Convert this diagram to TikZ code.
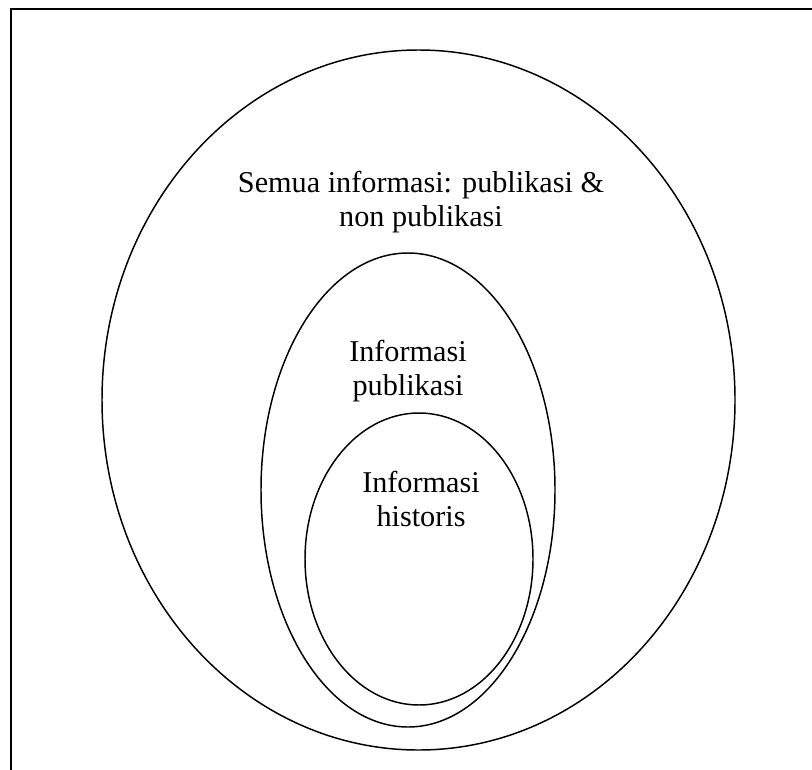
\documentclass[tikz,border=0pt]{standalone}
\usepackage{fontspec}
\setmainfont{Liberation Serif}
\begin{document}
\begin{tikzpicture}[xscale=2.5, yscale=-2.5,
        caption/.style={align=center, anchor=base, inner sep=0pt, font=\fontsize{21.5}{23.5}\selectfont}]
            \useasboundingbox (0,0) rectangle (8.12,7.69);
            \clip (0,0) rectangle (8.12,7.69);
            \draw [line width=1.4pt] (0.11,8) -- (0.11,0.09) -- (8.3,0.09);
            \draw [line width=1.05pt] (4.185,4.0) ellipse (3.165 and 3.5);
            \draw [line width=1.05pt] (4.08,4.9) ellipse (1.47 and 2.37);
            \draw [line width=1.05pt] (4.19,5.59) ellipse (1.14 and 1.46);
            \node [caption] (semua) at (4.21,2.26) {Semua informasi: publikasi \&\\non publikasi};
            \node [caption] (publikasi) at (4.08,3.95) {Informasi\\publikasi};
            \node [caption] (historis) at (4.21,5.26) {Informasi\\historis};
        \end{tikzpicture}
\end{document}
